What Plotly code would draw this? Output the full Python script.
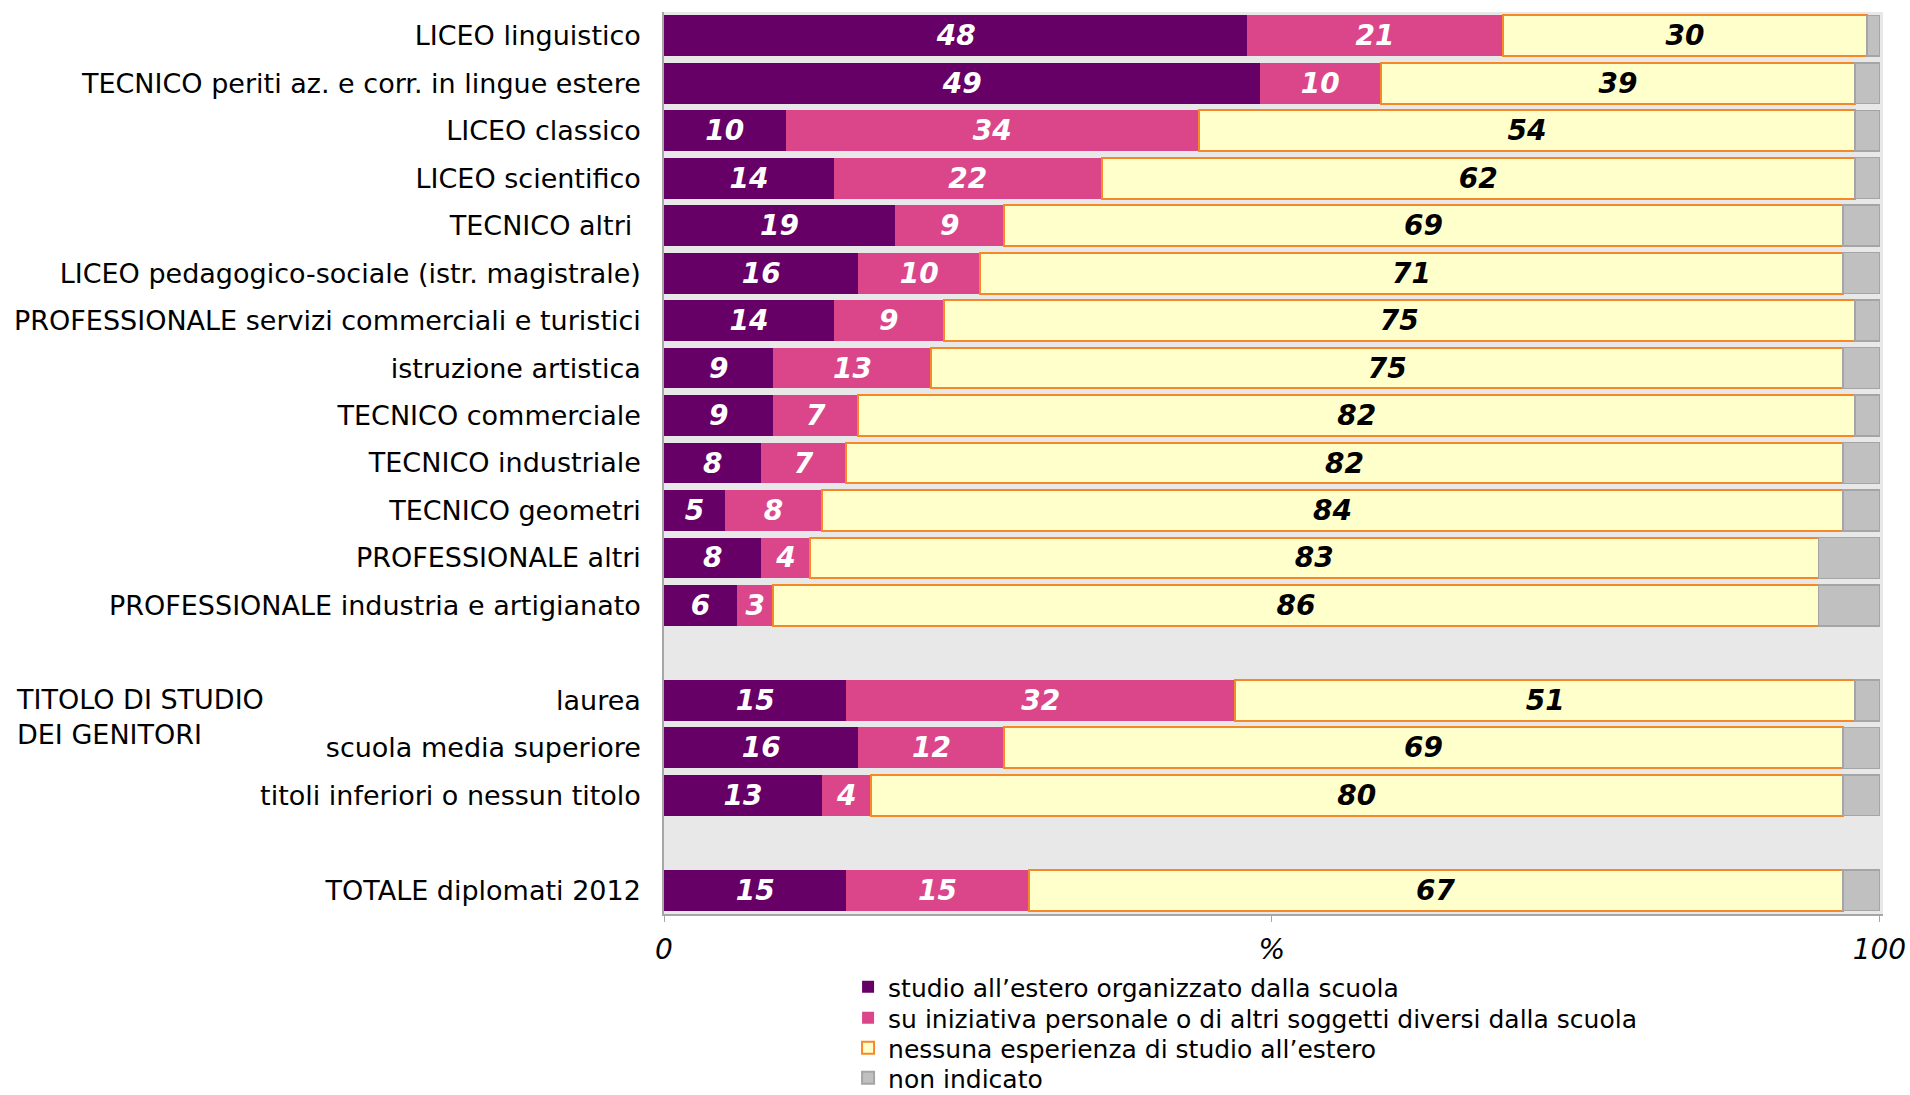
import plotly.graph_objects as go

# rows top to bottom; blank names are the spacer rows
categories = [
    "LICEO linguistico",
    "TECNICO periti az. e corr. in lingue estere",
    "LICEO classico",
    "LICEO scientifico",
    "TECNICO altri ",
    "LICEO pedagogico-sociale (istr. magistrale)",
    "PROFESSIONALE servizi commerciali e turistici",
    "istruzione artistica",
    "TECNICO commerciale",
    "TECNICO industriale",
    "TECNICO geometri",
    "PROFESSIONALE altri",
    "PROFESSIONALE industria e artigianato",
    " ",
    "laurea",
    "scuola media superiore",
    "titoli inferiori o nessun titolo",
    "  ",
    "TOTALE diplomati 2012",
]

organizzato = [48, 49, 10, 14, 19, 16, 14, 9, 9, 8, 5, 8, 6, None, 15, 16, 13, None, 15]
personale = [21, 10, 34, 22, 9, 10, 9, 13, 7, 7, 8, 4, 3, None, 32, 12, 4, None, 15]
nessuna = [30, 39, 54, 62, 69, 71, 75, 75, 82, 82, 84, 83, 86, None, 51, 69, 80, None, 67]
non_indicato = [1, 2, 2, 2, 3, 3, 2, 3, 2, 3, 3, 5, 5, None, 2, 3, 3, None, 3]

series_names = [
    "studio all\u2019estero organizzato dalla scuola",
    "su iniziativa personale o di altri soggetti diversi dalla scuola",
    "nessuna esperienza di studio all\u2019estero",
    "non indicato",
]

x_tickvals = [0, 50, 100]
x_ticktext = ["0", "%", "100"]

FONT = "DejaVu Sans"
W, H = 1910, 1095
ml, mr, mt, mb = 664, 27, 12, 181
plot_w = W - ml - mr
plot_h = H - mt - mb

fig = go.Figure()

styles = [
    (organizzato, "#660066", "#660066", 0, "white", True),
    (personale, "#DB468B", "#DB468B", 0, "white", True),
    (nessuna, "#FFFFCC", "#F5892A", 2, "black", True),
    (non_indicato, "#C0C0C0", "#A5A5A5", 1.5, "black", False),
]

# one legend box per series so the rows can be spaced like the original
legend_ids = ["legend", "legend2", "legend3", "legend4"]
legend_rows_px = [987, 1018, 1048, 1078]

for name, lid, (vals, fill, edge, lw, tcol, show_txt) in zip(series_names, legend_ids, styles):
    fig.add_trace(go.Bar(
        y=categories,
        x=vals,
        name=name,
        legend=lid,
        orientation="h",
        marker=dict(color=fill, line=dict(color=edge, width=lw)),
        text=[("" if v is None else str(v)) for v in vals] if show_txt else None,
        textposition="inside" if show_txt else "none",
        insidetextanchor="middle",
        textangle=0,
        constraintext="none",
        textfont=dict(family=FONT, size=28, color=tcol, weight="bold", style="italic"),
        hoverinfo="x+y+name",
    ))

legend_layout = {}
for lid, ypx in zip(legend_ids, legend_rows_px):
    legend_layout[lid] = dict(
        x=0.151, xanchor="left",
        y=-(ypx - (mt + plot_h)) / plot_h, yanchor="middle",
        font=dict(family=FONT, size=25, color="black"),
        bgcolor="rgba(0,0,0,0)",
        itemsizing="constant",
    )

fig.update_layout(
    barmode="stack",
    bargap=0.14,
    width=W,
    height=H,
    margin=dict(l=ml, r=mr, t=mt, b=mb, autoexpand=False),
    paper_bgcolor="white",
    plot_bgcolor="#E8E8E8",
    font=dict(family=FONT, size=27, color="black"),
    showlegend=True,
    uniformtext=dict(mode="show", minsize=28),
    **legend_layout,
)

fig.update_xaxes(
    range=[0, 100.3],
    tickvals=x_tickvals,
    ticktext=x_ticktext,
    tickfont=dict(family=FONT, size=28, style="italic"),
    showgrid=False,
    zeroline=False,
    showline=True,
    linecolor="#A6A6A6",
    linewidth=1.5,
    ticks="outside",
    ticklen=6,
    tickcolor="#A6A6A6",
    ticklabelstandoff=4,
    fixedrange=True,
)

fig.update_yaxes(
    categoryorder="array",
    categoryarray=categories[::-1],
    autorange=False,
    range=[-0.5, len(categories) - 0.5],
    tickfont=dict(family=FONT, size=27),
    showgrid=False,
    showline=True,
    linecolor="#A6A6A6",
    linewidth=1.5,
    ticks="",
    ticklabelstandoff=16,
    fixedrange=True,
)

fig.add_annotation(
    text="TITOLO DI STUDIO<br>DEI GENITORI",
    xref="paper", yref="y",
    x=-(ml - 14) / plot_w, y="laurea",
    xanchor="left", yanchor="top",
    yshift=18,
    align="left",
    showarrow=False,
    font=dict(family=FONT, size=27, color="black"),
)

# drop the default body margin so the figure sits at the page origin
fig.write_html("out.html", config={"displayModeBar": False},
               post_script="document.body.style.margin='0';")
